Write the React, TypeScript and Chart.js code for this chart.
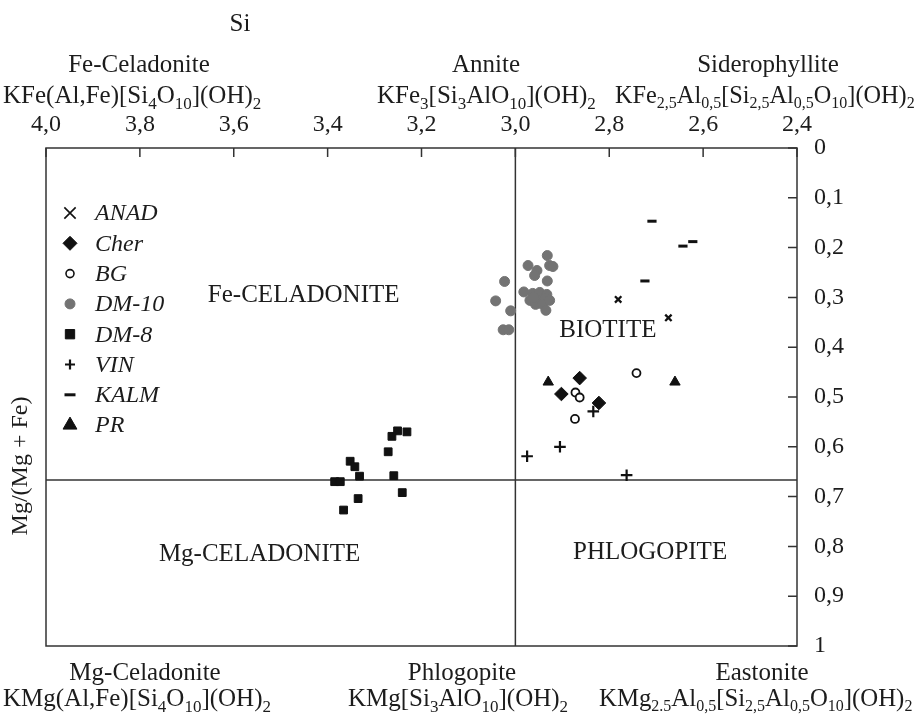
import React, { useEffect, useRef } from 'react';
import { Chart, registerables } from 'chart.js';

Chart.register(...registerables);

// ---------- axis ticks ----------
const xTickValues = [4.0, 3.8, 3.6, 3.4, 3.2, 3.0, 2.8, 2.6, 2.4];
const xTickLabels = ['4,0', '3,8', '3,6', '3,4', '3,2', '3,0', '2,8', '2,6', '2,4'];
const yTickValues = [0, 0.1, 0.2, 0.3, 0.4, 0.5, 0.6, 0.7, 0.8, 0.9, 1];
const yTickLabels = ['0', '0,1', '0,2', '0,3', '0,4', '0,5', '0,6', '0,7', '0,8', '0,9', '1'];

// ---------- series (Si, Mg/(Mg+Fe)) ----------
const seriesNames = ['ANAD', 'Cher', 'BG', 'DM-10', 'DM-8', 'VIN', 'KALM', 'PR'];

const anadSi = [2.781, 2.674];
const anadMg = [0.304, 0.341];

const cherSi = [2.863, 2.902, 2.822];
const cherMg = [0.462, 0.494, 0.512];

const bgSi = [2.872, 2.863, 2.873, 2.742];
const bgMg = [0.491, 0.501, 0.544, 0.452];

const dm10Si = [2.932, 2.973, 2.927, 2.920, 2.954, 2.959, 2.932, 3.023, 2.982, 2.963, 2.948, 2.933,
  2.969, 2.952, 2.937, 2.957, 2.942, 2.927, 2.961, 2.935, 3.042, 3.010, 3.026, 3.014];
const dm10Mg = [0.216, 0.236, 0.236, 0.238, 0.246, 0.256, 0.267, 0.268, 0.289, 0.292, 0.290, 0.294,
  0.306, 0.306, 0.302, 0.314, 0.314, 0.306, 0.300, 0.326, 0.307, 0.327, 0.365, 0.365];

const dm8Si = [3.251, 3.231, 3.263, 3.271, 3.352, 3.342, 3.332, 3.259, 3.385, 3.373, 3.335, 3.241, 3.366];
const dm8Mg = [0.568, 0.570, 0.579, 0.610, 0.629, 0.640, 0.659, 0.658, 0.670, 0.670, 0.704, 0.692, 0.727];

const vinSi = [2.834, 2.905, 2.975, 2.763];
const vinMg = [0.529, 0.600, 0.619, 0.657];

const kalmSi = [2.709, 2.643, 2.622, 2.724];
const kalmMg = [0.147, 0.197, 0.188, 0.267];

const prSi = [2.930, 2.660];
const prMg = [0.470, 0.470];

// field boundaries
const boundarySi = 3.0;
const boundaryMg = 2 / 3;

const FONT = '"Liberation Serif", "Times New Roman", serif';
const INK = '#1c1c1c';

type Seg = [string, boolean];
type RichLabel = { segs: Seg[]; x: number; y: number; align: 'left' | 'center'; size: number };

const NAME = 25;
const FORM = 25;

const topHeads: RichLabel[] = [
  { segs: [['Si', false]], x: 240, y: 31, align: 'center', size: NAME },
  { segs: [['Fe-Celadonite', false]], x: 139, y: 72, align: 'center', size: NAME },
  { segs: [['KFe(Al,Fe)[Si', false], ['4', true], ['O', false], ['10', true], ['](OH)', false], ['2', true]], x: 3, y: 103, align: 'left', size: FORM },
  { segs: [['Annite', false]], x: 486, y: 72, align: 'center', size: NAME },
  { segs: [['KFe', false], ['3', true], ['[Si', false], ['3', true], ['AlO', false], ['10', true], ['](OH)', false], ['2', true]], x: 377, y: 103, align: 'left', size: FORM },
  { segs: [['Siderophyllite', false]], x: 768, y: 72, align: 'center', size: NAME },
  { segs: [['KFe', false], ['2,5', true], ['Al', false], ['0,5', true], ['[Si', false], ['2,5', true], ['Al', false], ['0,5', true], ['O', false], ['10', true], ['](OH)', false], ['2', true]], x: 615, y: 103, align: 'left', size: 24.3 },
  { segs: [['Mg-Celadonite', false]], x: 145, y: 680, align: 'center', size: NAME },
  { segs: [['KMg(Al,Fe)[Si', false], ['4', true], ['O', false], ['10', true], ['](OH)', false], ['2', true]], x: 3, y: 706, align: 'left', size: FORM },
  { segs: [['Phlogopite', false]], x: 462, y: 680, align: 'center', size: NAME },
  { segs: [['KMg[Si', false], ['3', true], ['AlO', false], ['10', true], ['](OH)', false], ['2', true]], x: 348, y: 706, align: 'left', size: FORM },
  { segs: [['Eastonite', false]], x: 762, y: 680, align: 'center', size: NAME },
  { segs: [['KMg', false], ['2.5', true], ['Al', false], ['0,5', true], ['[Si', false], ['2,5', true], ['Al', false], ['0,5', true], ['O', false], ['10', true], ['](OH)', false], ['2', true]], x: 599, y: 706, align: 'left', size: 24.8 },
];

const fieldNames = ['Fe-CELADONITE', 'BIOTITE', 'Mg-CELADONITE', 'PHLOGOPITE'];
const fieldSi = [3.451, 2.803, 3.545, 2.713];
const fieldMg = [0.310, 0.380, 0.829, 0.825];

function drawRich(ctx: CanvasRenderingContext2D, segs: Seg[], x: number, y: number, align: string, size: number) {
  const main = `${size}px ${FONT}`;
  const sub = `${Math.round(size * 0.66)}px ${FONT}`;
  let w = 0;
  for (const [t, s] of segs) {
    ctx.font = s ? sub : main;
    w += ctx.measureText(t).width;
  }
  let cx = align === 'center' ? x - w / 2 : x;
  ctx.textAlign = 'left';
  ctx.textBaseline = 'alphabetic';
  for (const [t, s] of segs) {
    ctx.font = s ? sub : main;
    ctx.fillText(t, cx, s ? y + size * 0.22 : y);
    cx += ctx.measureText(t).width;
  }
}

function drawMarker(ctx: CanvasRenderingContext2D, style: string, x: number, y: number, r: number,
  fill: string, stroke: string, lw: number) {
  ctx.save();
  ctx.beginPath();
  ctx.lineWidth = lw;
  ctx.strokeStyle = stroke;
  ctx.fillStyle = fill;
  const d = r * Math.SQRT1_2;
  switch (style) {
    case 'crossRot':
      ctx.moveTo(x - d, y - d); ctx.lineTo(x + d, y + d);
      ctx.moveTo(x - d, y + d); ctx.lineTo(x + d, y - d);
      ctx.stroke();
      break;
    case 'cross':
      ctx.moveTo(x - r, y); ctx.lineTo(x + r, y);
      ctx.moveTo(x, y - r); ctx.lineTo(x, y + r);
      ctx.stroke();
      break;
    case 'line':
      ctx.moveTo(x - r, y); ctx.lineTo(x + r, y);
      ctx.stroke();
      break;
    case 'rectRot':
      ctx.moveTo(x, y - r); ctx.lineTo(x + r, y); ctx.lineTo(x, y + r); ctx.lineTo(x - r, y); ctx.closePath();
      ctx.fill(); ctx.stroke();
      break;
    case 'rect':
      ctx.rect(x - d, y - d, 2 * d, 2 * d);
      ctx.fill(); ctx.stroke();
      break;
    case 'triangle': {
      const a = r * Math.cos(Math.PI / 6);
      ctx.moveTo(x, y - r); ctx.lineTo(x + a, y + r / 2); ctx.lineTo(x - a, y + r / 2); ctx.closePath();
      ctx.fill(); ctx.stroke();
      break;
    }
    default:
      ctx.arc(x, y, r, 0, Math.PI * 2);
      ctx.fill(); ctx.stroke();
  }
  ctx.restore();
}

const pts = (xs: number[], ys: number[]) => xs.map((v, i) => ({ x: v, y: ys[i] }));

export default function App() {
  const canvasRef = useRef<HTMLCanvasElement | null>(null);

  useEffect(() => {
    document.body.style.margin = '0';
    const canvas = canvasRef.current;
    if (!canvas) return;

    const black = '#111111';
    const gray = '#737373';

    const seriesStyles = [
      { style: 'crossRot', r: 4.5, fill: black, stroke: black, lw: 2.3, lr: 8, llw: 1.6 },
      { style: 'rectRot', r: 6.8, fill: black, stroke: black, lw: 1, lr: 7, llw: 1 },
      { style: 'circle', r: 4, fill: '#ffffff', stroke: black, lw: 1.8, lr: 4, llw: 1.6 },
      { style: 'circle', r: 5, fill: gray, stroke: gray, lw: 1, lr: 5, llw: 1 },
      { style: 'rect', r: 5.5, fill: black, stroke: black, lw: 1, lr: 6.6, llw: 1 },
      { style: 'cross', r: 5.8, fill: black, stroke: black, lw: 2.2, lr: 5, llw: 2.2 },
      { style: 'line', r: 4.6, fill: black, stroke: black, lw: 3, lr: 5.5, llw: 3 },
      { style: 'triangle', r: 6, fill: black, stroke: black, lw: 1, lr: 8, llw: 1 },
    ];
    const seriesData = [
      pts(anadSi, anadMg), pts(cherSi, cherMg), pts(bgSi, bgMg), pts(dm10Si, dm10Mg),
      pts(dm8Si, dm8Mg), pts(vinSi, vinMg), pts(kalmSi, kalmMg), pts(prSi, prMg),
    ];

    const pointSets: any[] = seriesNames.map((name, i) => ({
      label: name,
      data: seriesData[i],
      pointStyle: seriesStyles[i].style,
      pointRadius: seriesStyles[i].r,
      pointHoverRadius: seriesStyles[i].r,
      pointBackgroundColor: seriesStyles[i].fill,
      pointBorderColor: seriesStyles[i].stroke,
      pointBorderWidth: seriesStyles[i].lw,
      showLine: false,
      order: 0,
    }));

    const lineSets: any[] = [
      { label: 'v', data: [{ x: boundarySi, y: 0 }, { x: boundarySi, y: 1 }] },
      { label: 'h', data: [{ x: 4.0, y: boundaryMg }, { x: 2.4, y: boundaryMg }] },
    ].map((d) => ({
      ...d, showLine: true, pointRadius: 0, borderColor: '#333333', borderWidth: 1.5, order: 1,
    }));

    const decor = {
      id: 'decor',
      beforeDatasetsDraw(chart: any) {
        const { ctx, chartArea: a, scales } = chart;
        ctx.save();
        ctx.strokeStyle = '#333333';
        ctx.lineWidth = 1.5;
        ctx.strokeRect(a.left, a.top, a.right - a.left, a.bottom - a.top);
        ctx.beginPath();
        for (const v of xTickValues) {
          const px = scales.x.getPixelForValue(v);
          ctx.moveTo(px, a.top); ctx.lineTo(px, a.top + 9);
        }
        for (const v of yTickValues) {
          const py = scales.y.getPixelForValue(v);
          ctx.moveTo(a.right - 9, py); ctx.lineTo(a.right, py);
        }
        ctx.stroke();
        ctx.restore();
      },
      afterDatasetsDraw(chart: any) {
        const { ctx, scales } = chart;
        ctx.save();
        ctx.fillStyle = INK;
        // field names
        ctx.font = `25px ${FONT}`;
        ctx.textAlign = 'center';
        ctx.textBaseline = 'alphabetic';
        fieldNames.forEach((t, i) => {
          ctx.fillText(t, scales.x.getPixelForValue(fieldSi[i]), scales.y.getPixelForValue(fieldMg[i]));
        });
        // legend
        seriesNames.forEach((name, i) => {
          const st = seriesStyles[i];
          const y = 213 + i * 30.3;
          drawMarker(ctx, st.style, 70, y, st.lr, st.fill, st.stroke, st.llw);
          ctx.fillStyle = INK;
          ctx.font = `italic 24px ${FONT}`;
          ctx.textAlign = 'left';
          ctx.textBaseline = 'middle';
          ctx.fillText(name, 95, y + 1);
        });
        // headers / end-member formulas
        ctx.fillStyle = INK;
        for (const l of topHeads) drawRich(ctx, l.segs, l.x, l.y, l.align, l.size);
        // y-axis title
        ctx.save();
        ctx.translate(21, 466);
        ctx.rotate(-Math.PI / 2);
        ctx.font = `24px ${FONT}`;
        ctx.textAlign = 'center';
        ctx.textBaseline = 'middle';
        ctx.fillText('Mg/(Mg + Fe)', 0, 0);
        ctx.restore();
        ctx.restore();
      },
    };

    const chart = new Chart(canvas, {
      type: 'scatter',
      data: { datasets: [...pointSets, ...lineSets] },
      options: {
        animation: false,
        responsive: false,
        maintainAspectRatio: false,
        events: [],
        layout: { padding: { left: 46, right: 0, top: 0, bottom: 68 } },
        plugins: { legend: { display: false }, tooltip: { enabled: false } },
        scales: {
          x: {
            type: 'linear',
            position: 'top',
            min: 2.4,
            max: 4.0,
            reverse: true,
            afterBuildTicks: (s: any) => { s.ticks = xTickValues.map((v) => ({ value: v })); },
            afterFit: (s: any) => { s.height = 148; },
            ticks: {
              autoSkip: false,
              maxRotation: 0,
              padding: 9,
              color: INK,
              font: { family: FONT, size: 24 },
              callback: (v: any) => xTickLabels[xTickValues.findIndex((t) => Math.abs(t - v) < 1e-6)] ?? '',
            },
            grid: { display: false, drawTicks: false },
            border: { display: false },
          },
          y: {
            type: 'linear',
            position: 'right',
            min: 0,
            max: 1,
            reverse: true,
            afterBuildTicks: (s: any) => { s.ticks = yTickValues.map((v) => ({ value: v })); },
            afterFit: (s: any) => { s.width = 126; },
            ticks: {
              autoSkip: false,
              padding: 17,
              color: INK,
              font: { family: FONT, size: 24 },
              callback: (v: any) => yTickLabels[yTickValues.findIndex((t) => Math.abs(t - v) < 1e-6)] ?? '',
            },
            grid: { display: false, drawTicks: false },
            border: { display: false },
          },
        },
      },
      plugins: [decor],
    });

    return () => chart.destroy();
  }, []);

  return (
    <div style={{ width: 923, height: 714, position: 'relative', background: '#ffffff' }}>
      <canvas ref={canvasRef} width={923} height={714} style={{ display: 'block' }} />
    </div>
  );
}
